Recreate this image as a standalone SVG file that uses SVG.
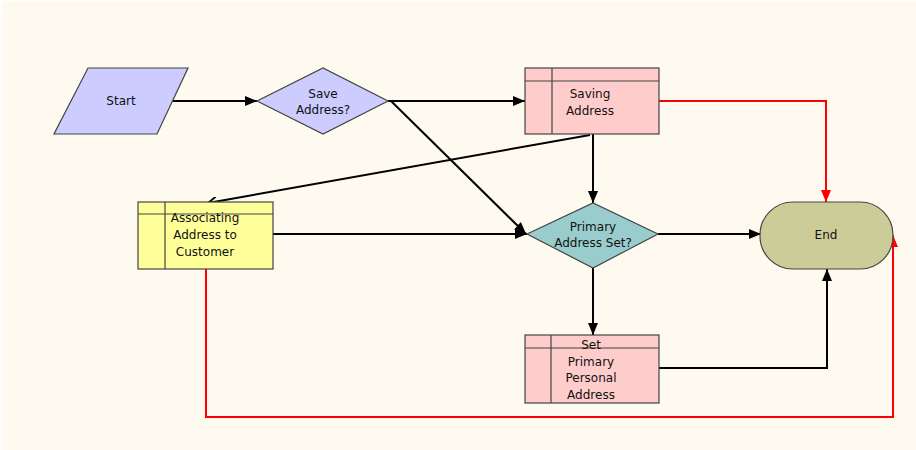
<svg xmlns="http://www.w3.org/2000/svg" width="916" height="450" viewBox="0 0 916 450">
<defs>
<marker id="ah" viewBox="0 0 12 10" refX="12" refY="5" markerWidth="12" markerHeight="10" markerUnits="userSpaceOnUse" orient="auto"><path d="M0,0 L12,5 L0,10 Z" fill="#000"/></marker>
<marker id="ahr" viewBox="0 0 12 10" refX="12" refY="5" markerWidth="12" markerHeight="10" markerUnits="userSpaceOnUse" orient="auto"><path d="M0,0 L12,5 L0,10 Z" fill="#f00"/></marker>
<marker id="aho" viewBox="0 0 10 10" refX="9" refY="5" markerWidth="10" markerHeight="10" markerUnits="userSpaceOnUse" orient="auto"><path d="M0,0 L9,5 L0,10" fill="none" stroke="#000" stroke-width="1.8"/></marker>
<style>
.n{stroke:#444;stroke-width:1.2}
.t{font-family:"DejaVu Sans",Verdana,sans-serif;font-size:12px;fill:#111;text-anchor:middle}
.c{fill:none;stroke:#000;stroke-width:2}
.r{fill:none;stroke:#f00;stroke-width:2}
</style>
</defs>
<rect x="2" y="1" width="914" height="449" fill="#FFFAF0"/>
<g id="connectors">
<path class="c" d="M173,101 H257" marker-end="url(#ah)"/>
<path class="c" d="M388,101 H525" marker-end="url(#ah)"/>
<path class="c" d="M391,101 L526,234" marker-end="url(#ah)"/>
<path class="c" d="M590,135 L208,203" marker-end="url(#aho)"/>
<path class="c" d="M593,134 V203" marker-end="url(#ah)"/>
<path class="c" d="M273,234 H527" marker-end="url(#ah)"/>
<path class="c" d="M658,234 H761" marker-end="url(#ah)"/>
<path class="c" d="M593,268 V335" marker-end="url(#ah)"/>
<path class="c" d="M659,368 H827 V269" marker-end="url(#ah)"/>
<path class="r" d="M659,101 H826 V202" marker-end="url(#ahr)"/>
<path class="r" d="M206,269 V417 H893 V235" marker-end="url(#ahr)"/>
</g>
<g id="start">
<polygon class="n" points="88,68 188,68 157,134 54,134" fill="#CCCCFF"/>
<text class="t" x="121" y="105">Start</text>
</g>
<g id="save-address">
<polygon class="n" points="257,101 323,68 388,101 323,134" fill="#CCCCFF"/>
<text class="t" x="323" y="98">Save</text>
<text class="t" x="323" y="114">Address?</text>
</g>
<g id="saving-address">
<rect class="n" x="525" y="68" width="134" height="66" fill="#FFCCCC"/>
<path class="n" d="M552,68 V134 M525,81 H659" fill="none"/>
<text class="t" x="590" y="98">Saving</text>
<text class="t" x="590" y="115">Address</text>
</g>
<g id="associating">
<rect class="n" x="138" y="202" width="135" height="67" fill="#FFFF99"/>
<path class="n" d="M165,202 V269 M138,214 H273" fill="none"/>
<text class="t" x="205" y="222">Associating</text>
<text class="t" x="205" y="239">Address to</text>
<text class="t" x="205" y="256">Customer</text>
</g>
<g id="primary-set">
<polygon class="n" points="527,234 593,203 658,234 593,268" fill="#99CCCC"/>
<text class="t" x="593" y="231">Primary</text>
<text class="t" x="593" y="247">Address Set?</text>
</g>
<g id="end">
<rect class="n" x="760" y="202" width="133" height="67" rx="33" ry="33" fill="#CCCC99"/>
<text class="t" x="826" y="239">End</text>
</g>
<g id="set-primary">
<rect class="n" x="525" y="335" width="134" height="68" fill="#FFCCCC"/>
<path class="n" d="M551,335 V403 M525,348 H659" fill="none"/>
<text class="t" x="591" y="349">Set</text>
<text class="t" x="591" y="366">Primary</text>
<text class="t" x="591" y="382">Personal</text>
<text class="t" x="591" y="399">Address</text>
</g>
</svg>
